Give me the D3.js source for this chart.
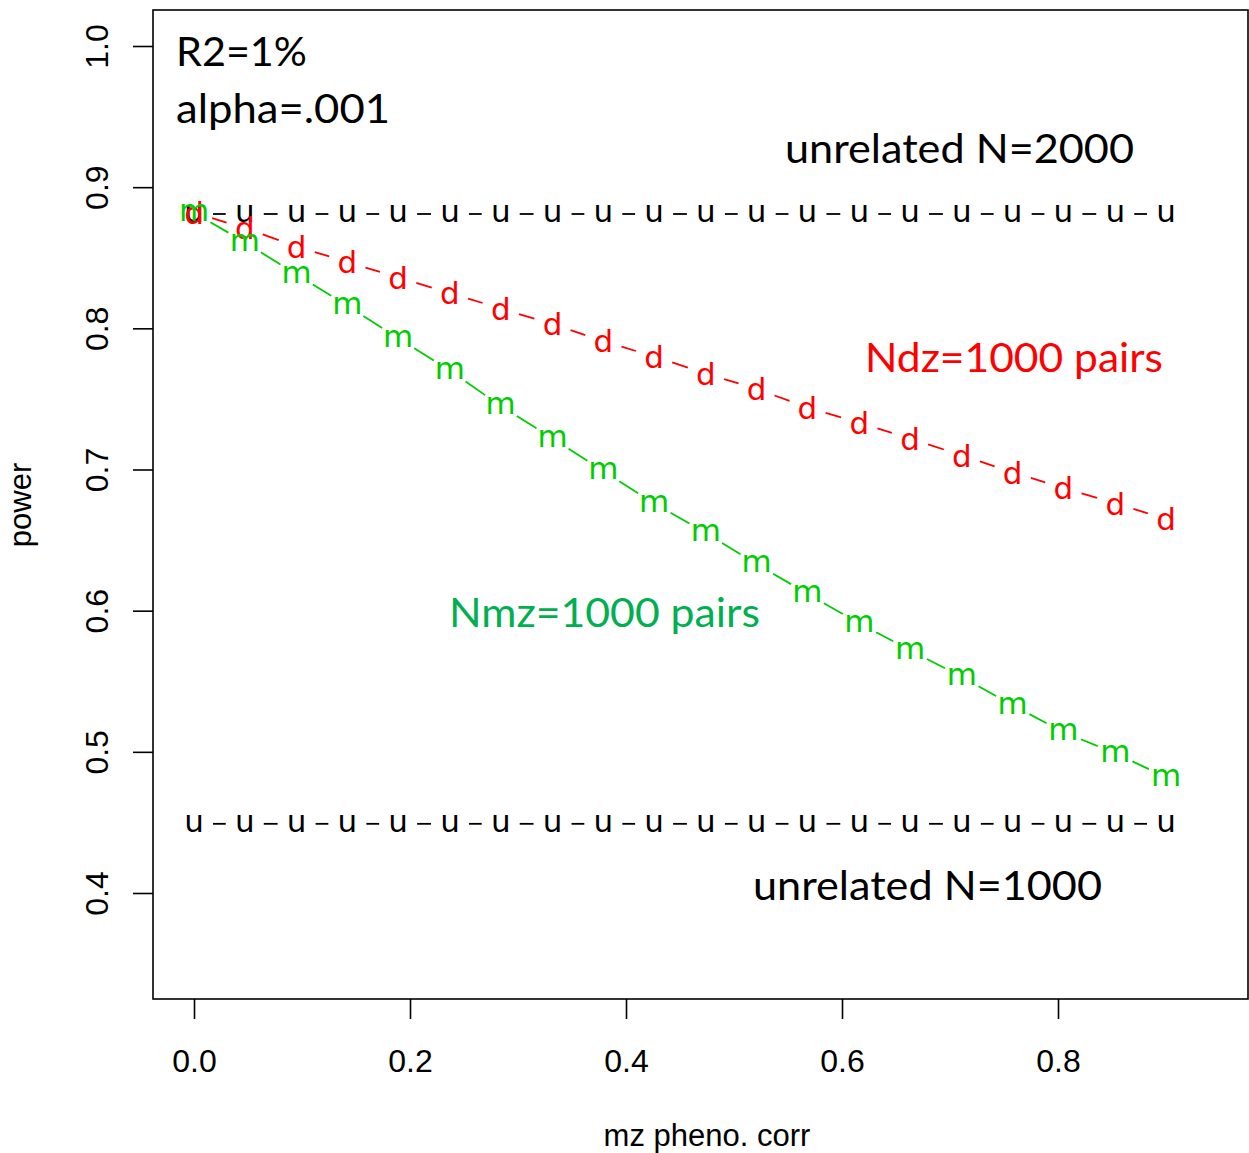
<!DOCTYPE html>
<html>
<head>
<meta charset="utf-8">
<script src="https://cdn.jsdelivr.net/npm/d3@7"></script>
<style>
  body{margin:0;background:#fff;}
  svg{display:block;}
</style>
</head>
<body>
<div class="canvas"></div>
<script>
// mz pheno corr values (20 points from 0 to .9)
const mzCorr=[0,0.047,0.095,0.142,0.189,0.237,0.284,0.332,0.379,0.426,
  0.474,0.521,0.568,0.616,0.663,0.711,0.758,0.805,0.853,0.9];

// power
const powerU2000=[0.881,0.881,0.881,0.881,0.881,0.881,0.881,0.881,0.881,0.881,
  0.881,0.881,0.881,0.881,0.881,0.881,0.881,0.881,0.881,0.881];
const powerDz=[0.882,0.871,0.858,0.847,0.836,0.825,0.814,0.803,0.791,0.780,
  0.768,0.757,0.744,0.733,0.722,0.710,0.698,0.687,0.676,0.665];
const powerMz=[0.882,0.861,0.838,0.816,0.793,0.770,0.745,0.722,0.699,0.676,
  0.655,0.633,0.612,0.591,0.572,0.553,0.533,0.514,0.499,0.482];
const powerU1000=[0.449,0.449,0.449,0.449,0.449,0.449,0.449,0.449,0.449,0.449,
  0.449,0.449,0.449,0.449,0.449,0.449,0.449,0.449,0.449,0.449];

const xTicks=[0,0.2,0.4,0.6,0.8];
const yTicks=[0.4,0.5,0.6,0.7,0.8,0.9,1.0];

const series=[
  {name:'u2000',values:powerU2000,ch:'u',color:'#000000'},
  {name:'dz',values:powerDz,ch:'d',color:'#ff0000'},
  {name:'mz',values:powerMz,ch:'m',color:'#00cd00'},
  {name:'u1000',values:powerU1000,ch:'u',color:'#000000'}
];

const dims={width:1249,height:1153};
const box={left:153,right:1248,top:10,bottom:999};

const svg=d3.select('.canvas')
.append('svg')
.attr('width',dims.width)
.attr('height',dims.height);

const x=d3.scaleLinear().domain([0,0.8]).range([194,1058]);
const y=d3.scaleLinear().domain([0.4,1.0]).range([893,46]);

// frame
svg.append('rect')
.attr('x',box.left).attr('y',box.top)
.attr('width',box.right-box.left).attr('height',box.bottom-box.top)
.attr('fill','none').attr('stroke','#000').attr('stroke-width',1.6);

// axes (R style: ticks outside, labels Arial)
const xAxis=d3.axisBottom(x).tickValues(xTicks).tickFormat(d3.format('.1f')).tickSize(20).tickPadding(30);
const gx=svg.append('g').attr('transform',`translate(0,${box.bottom})`).call(xAxis);
gx.select('.domain').remove();
gx.selectAll('line').attr('stroke','#000').attr('stroke-width',1.6);
gx.selectAll('text').attr('font-family','"Liberation Sans",Arial,sans-serif').attr('font-size',32).attr('fill','#000');

const yAxis=d3.axisLeft(y).tickValues(yTicks).tickFormat(d3.format('.1f')).tickSize(20);
const gy=svg.append('g').attr('transform',`translate(${box.left},0)`).call(yAxis);
gy.select('.domain').remove();
gy.selectAll('line').attr('stroke','#000').attr('stroke-width',1.6);
gy.selectAll('text')
.attr('font-family','"Liberation Sans",Arial,sans-serif').attr('font-size',32).attr('fill','#000')
.attr('x',null).attr('dy',null)
.attr('text-anchor','middle')
.attr('transform','translate(-45,0) rotate(-90)');

// axis titles
svg.append('text')
.attr('x',707).attr('y',1146)
.attr('text-anchor','middle')
.attr('font-family','"Liberation Sans",Arial,sans-serif').attr('font-size',31)
.text('mz pheno. corr');
svg.append('text')
.attr('transform','translate(31,505) rotate(-90)')
.attr('text-anchor','middle')
.attr('font-family','"Liberation Sans",Arial,sans-serif').attr('font-size',31)
.text('power');

// type="b": segments with gaps around the point characters
const gap=19;
const charShift={u:8.2,m:8.4,d:11.2}; // baseline offset so glyph ink is centred
series.forEach(s=>{
  const pts=mzCorr.map((v,i)=>[x(v),y(s.values[i])]);
  const g=svg.append('g').attr('class',s.name);
  const segs=d3.pairs(pts).map(([a,b])=>{
    const dx=b[0]-a[0],dy=b[1]-a[1],len=Math.hypot(dx,dy);
    const f=gap/len;
    return len>2*gap?[a[0]+dx*f,a[1]+dy*f,b[0]-dx*f,b[1]-dy*f]:null;
  }).filter(d=>d);
  g.selectAll('line').data(segs).enter().append('line')
  .attr('x1',d=>d[0]).attr('y1',d=>d[1]).attr('x2',d=>d[2]).attr('y2',d=>d[3])
  .attr('stroke',s.color).attr('stroke-width',1.8);
  g.selectAll('text').data(pts).enter().append('text')
  .attr('x',d=>d[0]).attr('y',d=>d[1]+charShift[s.ch])
  .attr('text-anchor','middle')
  .attr('font-family','"DejaVu Sans",sans-serif').attr('font-size',31)
  .attr('fill',s.color)
  .text(s.ch);
});

// annotations
const notes=[
  {t:'R2=1%',x:176,y:66,w:131,c:'#000'},
  {t:'alpha=.001',x:176,y:123,w:214,c:'#000'},
  {t:'unrelated N=2000',x:785,y:163,w:349,c:'#000'},
  {t:'Ndz=1000 pairs',x:865,y:372,w:298,c:'#ff0000'},
  {t:'Nmz=1000 pairs',x:449,y:627,w:311,c:'#00b050'},
  {t:'unrelated N=1000',x:753,y:900,w:349,c:'#000'}
];
svg.selectAll('text.note').data(notes).enter().append('text')
.attr('class','note')
.attr('x',d=>d.x).attr('y',d=>d.y)
.attr('textLength',d=>d.w).attr('lengthAdjust','spacingAndGlyphs')
.attr('font-family','Lato,"Open Sans",sans-serif').attr('font-size',40)
.attr('fill',d=>d.c)
.text(d=>d.t);
</script>
</body>
</html>
